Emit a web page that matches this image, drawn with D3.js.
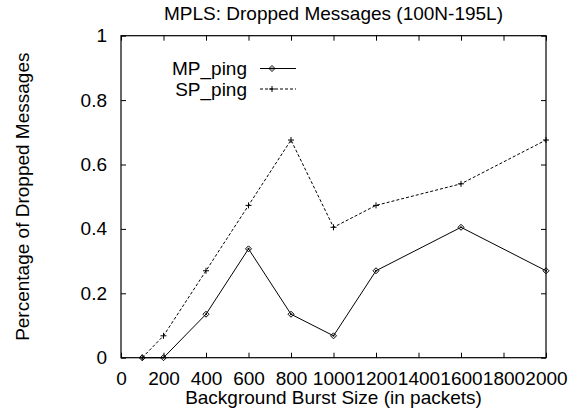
<!DOCTYPE html>
<html>
<head>
<meta charset="utf-8">
<script src="https://cdn.jsdelivr.net/npm/d3@7"></script>
<style>
  html, body { margin: 0; padding: 0; background: #fff; }
  svg { display: block; }
  text { font-family: "Liberation Sans", Arial, Helvetica, sans-serif; fill: #000; }
</style>
</head>
<body>
<svg id="chart" width="568" height="408"></svg>
<script>
// Burst sizes (packets) and fraction of dropped messages per scheme
const burstSizes = [100, 200, 400, 600, 800, 1000, 1200, 1600, 2000];
const mpPing = [0, 0, 0.135, 0.338, 0.135, 0.068, 0.27, 0.405, 0.27];
const spPing = [0, 0.068, 0.27, 0.473, 0.676, 0.405, 0.473, 0.54, 0.676];
const xTicks = [0, 200, 400, 600, 800, 1000, 1200, 1400, 1600, 1800, 2000];
const yTicks = [0, 0.2, 0.4, 0.6, 0.8, 1];
const seriesNames = ["MP_ping", "SP_ping"];

const svg = d3.select("#chart");
const m = { left: 121, right: 546, top: 35.7, bottom: 357.7 };
const fs = 19;

const x = d3.scaleLinear().domain([0, 2000]).range([m.left, m.right]);
const y = d3.scaleLinear().domain([0, 1]).range([m.bottom, m.top]);

// Title
svg.append("text")
  .attr("x", (m.left + m.right) / 2).attr("y", 20)
  .attr("text-anchor", "middle").attr("font-size", fs)
  .text("MPLS: Dropped Messages (100N-195L)");

// Axes with inward ticks, mirrored on top and right
const tickLen = 5;
const gx = svg.append("g").attr("transform", `translate(0,${m.bottom})`)
  .call(d3.axisBottom(x).tickValues(xTicks).tickSize(-tickLen).tickPadding(13.5).tickFormat(d3.format("d")));
const gxTop = svg.append("g").attr("transform", `translate(0,${m.top})`)
  .call(d3.axisTop(x).tickValues(xTicks).tickSize(-tickLen).tickFormat(""));
const gy = svg.append("g").attr("transform", `translate(${m.left},0)`)
  .call(d3.axisLeft(y).tickValues(yTicks).tickSize(-tickLen).tickPadding(14).tickFormat(d => d === 0 || d === 1 ? d3.format("d")(d) : d3.format(".1f")(d)));
const gyRight = svg.append("g").attr("transform", `translate(${m.right},0)`)
  .call(d3.axisRight(y).tickValues(yTicks).tickSize(-tickLen).tickFormat(""));

[gx, gxTop, gy, gyRight].forEach(g => {
  g.select(".domain").remove();
  g.selectAll(".tick line").attr("stroke", "#000").attr("stroke-width", 1);
  g.selectAll(".tick text").attr("font-size", fs).attr("font-family", "Liberation Sans, Arial, sans-serif").attr("fill", "#000");
});
gx.selectAll(".tick text").attr("dy", "0.71em");

// Frame
svg.append("rect")
  .attr("x", m.left).attr("y", m.top)
  .attr("width", m.right - m.left).attr("height", m.bottom - m.top)
  .attr("fill", "none").attr("stroke", "#000").attr("stroke-width", 1.2);

// Axis titles
svg.append("text")
  .attr("x", (m.left + m.right) / 2).attr("y", 404)
  .attr("text-anchor", "middle").attr("font-size", fs)
  .text("Background Burst Size (in packets)");
svg.append("text")
  .attr("transform", `translate(29,${(m.top + m.bottom) / 2}) rotate(-90)`)
  .attr("text-anchor", "middle").attr("font-size", fs)
  .text("Percentage of Dropped Messages");

// Series lines
const line = d3.line().x(d => x(d[0])).y(d => y(d[1]));
const mpData = burstSizes.map((b, i) => [b, mpPing[i]]);
const spData = burstSizes.map((b, i) => [b, spPing[i]]);

svg.append("path").datum(mpData).attr("d", line)
  .attr("fill", "none").attr("stroke", "#000").attr("stroke-width", 1);
svg.append("path").datum(spData).attr("d", line)
  .attr("fill", "none").attr("stroke", "#000").attr("stroke-width", 1)
  .attr("stroke-dasharray", "3,2");

// Point markers
function diamond(g, cx, cy) {
  const r = 3;
  g.append("path")
    .attr("d", `M${cx},${cy - r}L${cx + r},${cy}L${cx},${cy + r}L${cx - r},${cy}Z`)
    .attr("fill", "none").attr("stroke", "#000").attr("stroke-width", 1);
  g.append("circle").attr("cx", cx).attr("cy", cy).attr("r", 1).attr("fill", "#000");
}
function plus(g, cx, cy) {
  const r = 3;
  g.append("path")
    .attr("d", `M${cx - r},${cy}H${cx + r}M${cx},${cy - r}V${cy + r}`)
    .attr("stroke", "#000").attr("stroke-width", 1);
}
const pts = svg.append("g");
mpData.forEach(d => diamond(pts, x(d[0]), y(d[1])));
spData.forEach(d => plus(pts, x(d[0]), y(d[1])));

// Legend
const leg = svg.append("g");
const legRows = [68.5, 89];
seriesNames.forEach((name, i) => {
  const ly = legRows[i];
  leg.append("text").attr("x", 247).attr("y", ly)
    .attr("text-anchor", "end").attr("dominant-baseline", "central")
    .attr("font-size", fs).text(name);
  const ln = leg.append("line").attr("x1", 260).attr("x2", 296)
    .attr("y1", ly).attr("y2", ly).attr("stroke", "#000").attr("stroke-width", 1);
  if (i === 1) ln.attr("stroke-dasharray", "3,2");
  if (i === 0) diamond(leg, 272, ly); else plus(leg, 272, ly);
});
</script>
</body>
</html>
